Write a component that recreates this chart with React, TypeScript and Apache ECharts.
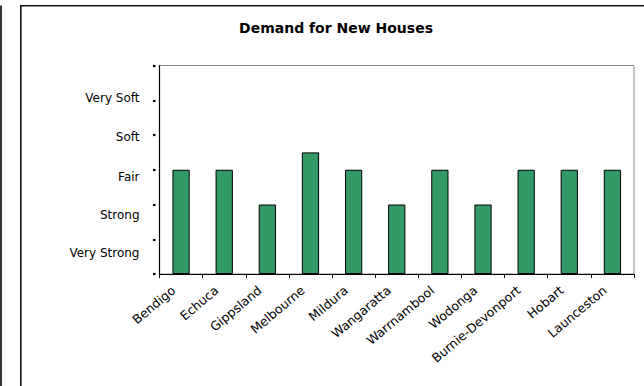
import React, { useEffect, useRef } from "react";
import * as echarts from "echarts";

const categories = [
  "Bendigo",
  "Echuca",
  "Gippsland",
  "Melbourne",
  "Mildura",
  "Wangaratta",
  "Warrnambool",
  "Wodonga",
  "Burnie-Devonport",
  "Hobart",
  "Launceston",
];
const demandValues = [3, 3, 2, 3.5, 3, 2, 3, 2, 3, 3, 3];
const yLabelTexts = ["Very Strong", "Strong", "Fair", "Soft", "Very Soft"];
const yLabelValues = [0.6, 1.71, 2.8, 3.93, 5.06];
const yMin = 0;
const yMax = 6;

export default function App() {
  const ref = useRef<HTMLDivElement>(null);
  useEffect(() => {
    if (!ref.current) return;
    const chart = echarts.init(ref.current, null, { renderer: "svg" });
    const font = "DejaVu Sans";
    chart.setOption({
      animation: false,
      backgroundColor: "#ffffff",
      title: {
        text: "Demand for New Houses",
        left: 331,
        top: 16,
        textAlign: "center",
        textStyle: {
          fontFamily: font,
          fontWeight: "bold",
          fontSize: 14,
          color: "#000000",
        },
      },
      grid: {
        left: 159.5,
        right: 10,
        top: 65.5,
        bottom: 112,
        show: true,
        borderColor: "#8a8a8a",
        borderWidth: 1,
        containLabel: false,
      },
      xAxis: {
        type: "category",
        data: categories,
        boundaryGap: true,
        axisLine: { show: true, lineStyle: { color: "#000000", width: 1.2 } },
        axisTick: { show: true, length: 4, lineStyle: { color: "#000000", width: 1 } },
        axisLabel: {
          rotate: 40,
          interval: 0,
          margin: 8,
          padding: [0, 10, 0, 0],
          fontFamily: font,
          fontSize: 12.5,
          color: "#000000",
        },
        splitLine: { show: false },
      },
      yAxis: [
        {
          type: "value",
          min: yMin,
          max: yMax,
          interval: 1,
          position: "left",
          axisLine: { show: true, lineStyle: { color: "#000000", width: 1.2 } },
          axisTick: { show: false },
          splitLine: { show: false },
          axisLabel: {
            show: true,
            customValues: yLabelValues,
            margin: 20,
            fontFamily: font,
            fontSize: 12,
            color: "#000000",
            formatter: (v: number) => {
              let best = 0;
              let bd = Infinity;
              yLabelValues.forEach((lv, i) => {
                const d = Math.abs(lv - v);
                if (d < bd) {
                  bd = d;
                  best = i;
                }
              });
              return yLabelTexts[best];
            },
          },
        },
        {
          type: "value",
          min: yMin,
          max: yMax,
          interval: 1,
          position: "left",
          offset: 4,
          axisLine: { show: false },
          axisTick: { show: true, length: 2.5, lineStyle: { color: "#000000", width: 2.2 } },
          axisLabel: { show: false },
          splitLine: { show: false },
        },
      ],
      series: [
        {
          type: "bar",
          data: demandValues,
          yAxisIndex: 0,
          barWidth: "40%",
          itemStyle: {
            color: "#339966",
            borderColor: "#000000",
            borderWidth: 1,
          },
        },
      ],
      graphic: [
        {
          type: "line",
          shape: { x1: 1, y1: 5.5, x2: 1, y2: 390 },
          style: { stroke: "#000000", lineWidth: 1.6 },
        },
        {
          type: "line",
          shape: { x1: 20.8, y1: 5.5, x2: 20.8, y2: 390 },
          style: { stroke: "#111111", lineWidth: 1.6 },
        },
        {
          type: "line",
          shape: { x1: 20, y1: 5.8, x2: 650, y2: 5.8 },
          style: { stroke: "#111111", lineWidth: 1.6 },
        },
      ],
    });
    return () => chart.dispose();
  }, []);
  return (
    <div
      ref={ref}
      style={{ position: "fixed", left: 0, top: 0, width: 644, height: 386 }}
    />
  );
}
